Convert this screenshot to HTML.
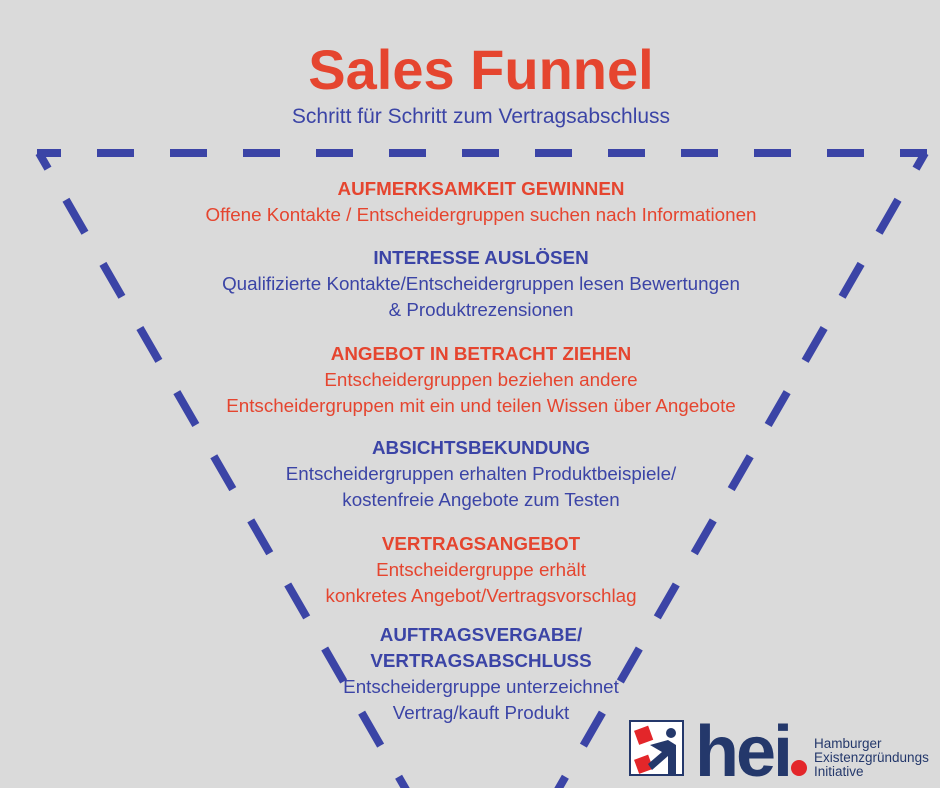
<!DOCTYPE html>
<html><head><meta charset="utf-8"><style>
body{margin:0;width:940px;height:788px;background:#dadada;position:relative;overflow:hidden;font-family:"Liberation Sans",sans-serif}
.t{position:absolute;left:0;width:962px;text-align:center;font-size:18.8px;line-height:26px}
.r{color:#e5452f}.b{color:#3b44a6}
.h{font-weight:bold;font-size:18.8px}
</style></head><body>
<svg width="940" height="788" style="position:absolute;left:0;top:0">
<g stroke="#3b44a6" stroke-width="8" fill="none">
<line x1="37" y1="153" x2="927" y2="153" stroke-dasharray="37 36" stroke-dashoffset="13"/>
<line x1="39" y1="153" x2="412" y2="800" stroke-dasharray="38 36" stroke-dashoffset="20"/>
<line x1="925" y1="153" x2="552" y2="800" stroke-dasharray="38 36" stroke-dashoffset="20"/>
</g>
<polygon points="37,149 49,149 43,160" fill="#3b44a6"/>
<polygon points="927,149 915,149 921,160" fill="#3b44a6"/>
<rect x="630" y="721" width="53" height="54" fill="#fff" stroke="#24386b" stroke-width="2"/>
<rect x="636" y="728" width="15" height="15" fill="#e3262a" transform="rotate(-20 643 735)"/>
<rect x="636" y="757" width="15" height="15" fill="#e3262a" transform="rotate(-20 643 764)"/>
<circle cx="671" cy="733" r="5" fill="#24386b"/>
<path d="M650 745 L668 740 L676 745 L676 774 L668 774 L668 756 L652 770 L648 764 L662 752 Z" fill="#24386b"/>
<text x="695" y="776" font-family="Liberation Sans" font-weight="bold" font-size="72" fill="#24386b" letter-spacing="-3">hei</text>
<circle cx="799" cy="768" r="8" fill="#e3262a"/>
</svg>
<div style="position:absolute;left:814px;top:737px;font-size:13.5px;line-height:14px;color:#24386b">Hamburger<br>Existenzgründungs<br>Initiative</div>
<div class="t r" style="top:38px;font-size:56px;line-height:64px;font-weight:bold">Sales Funnel</div>
<div class="t b" style="top:104px;font-size:21px;line-height:26px">Schritt für Schritt zum Vertragsabschluss</div>
<div class="t r" style="top:176px"><span class="h">AUFMERKSAMKEIT GEWINNEN</span><br>Offene Kontakte / Entscheidergruppen suchen nach Informationen</div>
<div class="t b" style="top:245px"><span class="h">INTERESSE AUSLÖSEN</span><br>Qualifizierte Kontakte/Entscheidergruppen lesen Bewertungen<br>&amp; Produktrezensionen</div>
<div class="t r" style="top:341px"><span class="h">ANGEBOT IN BETRACHT ZIEHEN</span><br>Entscheidergruppen beziehen andere<br>Entscheidergruppen mit ein und teilen Wissen über Angebote</div>
<div class="t b" style="top:435px"><span class="h">ABSICHTSBEKUNDUNG</span><br>Entscheidergruppen erhalten Produktbeispiele/<br>kostenfreie Angebote zum Testen</div>
<div class="t r" style="top:531px"><span class="h">VERTRAGSANGEBOT</span><br>Entscheidergruppe erhält<br>konkretes Angebot/Vertragsvorschlag</div>
<div class="t b" style="top:622px"><span class="h">AUFTRAGSVERGABE/<br>VERTRAGSABSCHLUSS</span><br>Entscheidergruppe unterzeichnet<br>Vertrag/kauft Produkt</div>
</body></html>
